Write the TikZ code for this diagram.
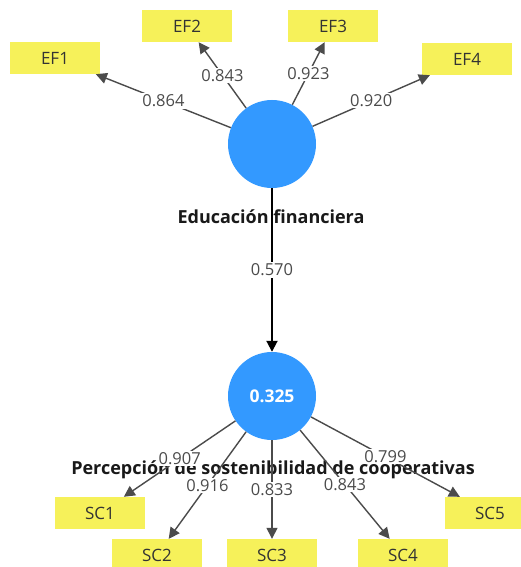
\documentclass[tikz,border=0pt]{standalone}
\usepackage{fontspec}
\setmainfont{Open Sans}
\usetikzlibrary{positioning,arrows.meta}
\definecolor{lvblue}{RGB}{51,153,255}
\definecolor{mvyellow}{RGB}{246,241,90}
\definecolor{wgray}{RGB}{75,75,75}

\begin{document}
\begin{tikzpicture}[x=1pt,y=-1pt,
		>={Triangle[length=11pt,width=11pt]},
		lvnode/.style={circle,fill=lvblue,minimum size=88pt,inner sep=0pt,text=white,font=\fontsize{17.5}{20}\selectfont\bfseries},
		mvnode/.style={rectangle,fill=mvyellow,minimum width=90pt,minimum height=32pt,inner sep=0pt,text=black!80,font=\fontsize{17}{20}\selectfont},
		lvlabel/.style={inner sep=1pt,text=black!90,font=\fontsize{18}{21}\selectfont\bfseries},
		loading/.style={->,line width=1.4pt,draw=wgray},
		weight/.style={fill=white,inner sep=1.5pt,text=wgray,font=\fontsize{16.5}{19}\selectfont}]
		\useasboundingbox[fill=white] (0,0) rectangle (521,567);

		% latent variables
		\node[lvnode] (ef) at (272,144) {};
		\node[lvnode] (pc) at (272,396) {0.325};
		\node[lvlabel] (eflab) at (271,217) {Educación financiera};
		\node[lvlabel] (pclab) at (273,470) {Percepción de sostenibilidad de cooperativas};

		% indicators
		\node[mvnode] (ef1) at (55,58) {EF1};
		\node[mvnode] (ef2) at (187,26) {EF2};
		\node[mvnode] (ef3) at (333,26) {EF3};
		\node[mvnode] (ef4) at (467,59) {EF4};
		\node[mvnode] (sc1) at (100,513) {SC1};
		\node[mvnode] (sc2) at (157,555) {SC2};
		\node[mvnode] (sc3) at (272,555) {SC3};
		\node[mvnode] (sc4) at (403,555) {SC4};
		\node[mvnode] (sc5) at (490,513) {SC5};

		\draw[loading] (ef) -- node[weight] {0.864} (ef1);
		\draw[loading] (ef) -- node[weight] {0.843} (ef2);
		\draw[loading] (ef) -- node[weight] {0.923} (ef3);
		\draw[loading] (ef) -- node[weight] {0.920} (ef4);

		\draw[->,line width=1.9pt,black] (ef) -- node[weight] {0.570} (pc);

		\draw[loading] (pc) -- node[weight] {0.907} (sc1);
		\draw[loading] (pc) -- node[weight] {0.916} (sc2);
		\draw[loading] (pc) -- node[weight] {0.833} (sc3);
		\draw[loading] (pc) -- node[weight] {0.843} (sc4);
		\draw[loading] (pc) -- node[weight] {0.799} (sc5);
	\end{tikzpicture}
\end{document}
